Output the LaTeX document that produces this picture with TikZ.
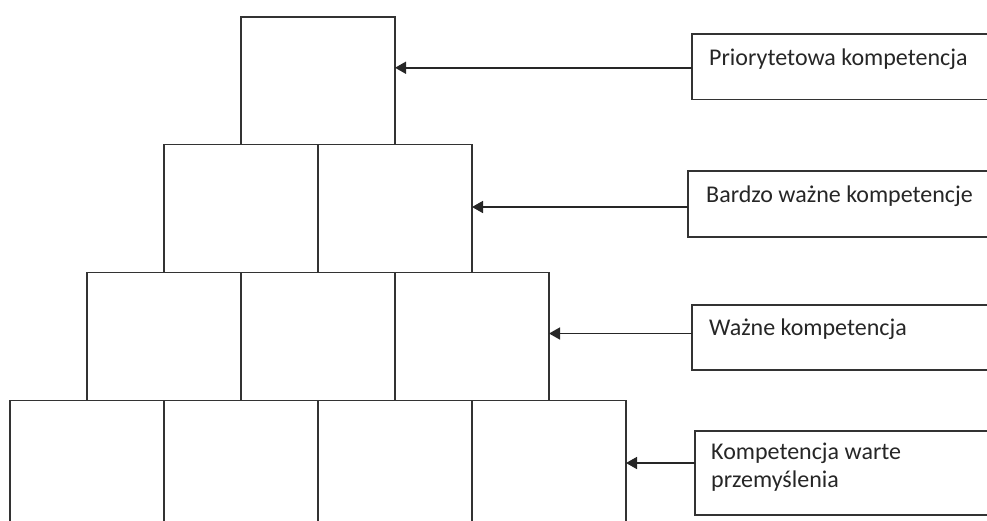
\documentclass[tikz,border=0pt]{standalone}
\usepackage{fontspec}
\setmainfont{Carlito}
\usetikzlibrary{arrows.meta,positioning,calc}

\begin{document}
\begin{tikzpicture}[x=1pt,y=-1pt,
    cellBox/.style={draw=black!80, line width=1.2pt, minimum width=154pt, minimum height=127.7pt, inner sep=0pt, outer sep=0pt, anchor=north west},
    lblBox/.style={draw=black!80, line width=1.2pt, minimum width=320pt, minimum height=#1, inner sep=0pt, outer sep=0pt, anchor=north west},
    lblText/.style={font=\fontsize{24}{28}\selectfont, text=black!85, inner sep=0pt, anchor=base west},
    pointer/.style={draw=black!85, line width=1.6pt, -{Triangle[length=11pt,width=12pt]}}]

\useasboundingbox (0,0) rectangle (987,520);
\clip (0,0) rectangle (987,520);

%piramida
\foreach \row in {0,1,2,3}
{
    \begin{scope}[shift={(-77*\row,127.7*\row)}]
    \foreach \col in {0,...,\row}
    {
        \node[cellBox] (cell\row\col) at ({241+154*\col},17) {};
    }
    \end{scope}
}

%opisy
\node[lblBox=65.5pt] (lblA) at (692,34) {};
\node[lblBox=66pt] (lblB) at (688,171) {};
\node[lblBox=65pt] (lblC) at (692,305) {};
\node[lblBox=84pt] (lblD) at (695,431) {};

\node[lblText] (txtA) at ([shift={(17,31)}]lblA.north west) {Priorytetowa kompetencja};
\node[lblText] (txtB) at ([shift={(18,31)}]lblB.north west) {Bardzo ważne kompetencje};
\node[lblText] (txtC) at ([shift={(17,30)}]lblC.north west) {Ważne kompetencja};
\node[lblText] (txtD) at ([shift={(16,28)}]lblD.north west) {Kompetencja warte};
\node[lblText] (txtE) at ([shift={(0,28)}]txtD.base west) {przemyślenia};

%strzalki
\draw[pointer] ([yshift=-1pt]lblA.west) -- ([yshift=-1pt]lblA.west -| cell00.east);
\draw[pointer] ([yshift=-3pt]lblB.west) -- ([yshift=-3pt]lblB.west -| cell11.east);
\draw[pointer] ([yshift=4pt]lblC.west) -- ([yshift=4pt]lblC.west -| cell22.east);
\draw[pointer] ([yshift=10pt]lblD.west) -- ([yshift=10pt]lblD.west -| cell33.east);
\end{tikzpicture}
\end{document}
